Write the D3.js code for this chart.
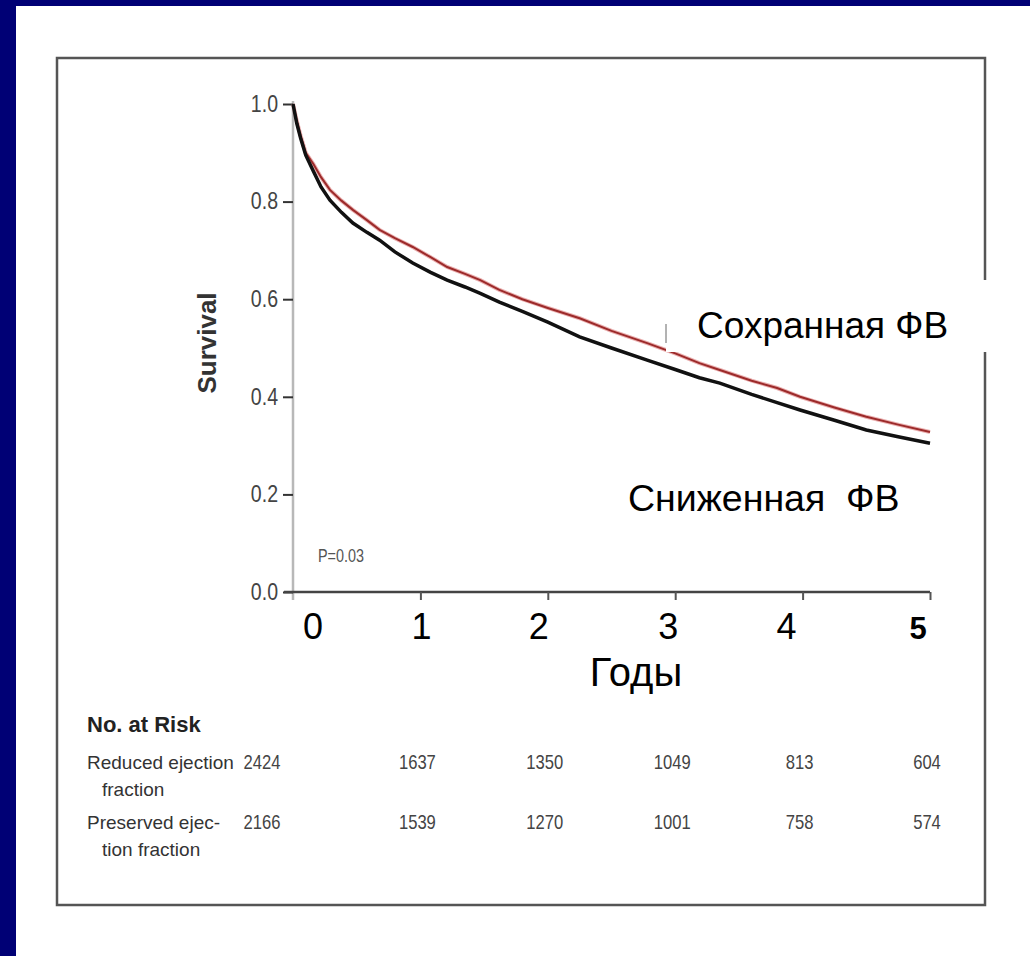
<!DOCTYPE html>
<html>
<head>
<meta charset="utf-8">
<script src="https://cdn.jsdelivr.net/npm/d3@7"></script>
<style>
  body { margin: 0; background: #fff; }
  text { font-family: "Liberation Sans", Arial, sans-serif; }
</style>
</head>
<body>
<svg id="km"></svg>
<script>
// data
const years = [0, 1, 2, 3, 4, 5];
const yTicks = [0, 0.2, 0.4, 0.6, 0.8, 1.0];

const times = [0, 0.03, 0.06, 0.1, 0.16, 0.22, 0.29, 0.38, 0.47, 0.58, 0.68, 0.8, 0.94, 1.08, 1.21, 1.35,
  1.47, 1.62, 1.8, 2.0, 2.25, 2.5, 2.78, 3.0, 3.19, 3.35, 3.6, 3.8, 3.98, 4.25, 4.5, 4.75, 5.0];
const reducedSurv = [1.0, 0.96, 0.93, 0.895, 0.862, 0.83, 0.803, 0.778, 0.756, 0.737, 0.721, 0.697, 0.674,
  0.655, 0.639, 0.625, 0.612, 0.594, 0.575, 0.553, 0.523, 0.5, 0.475, 0.456, 0.439, 0.428, 0.405, 0.388,
  0.373, 0.352, 0.332, 0.318, 0.305];
const preservedSurv = [1.0, 0.965, 0.935, 0.9, 0.877, 0.85, 0.824, 0.802, 0.783, 0.762, 0.742, 0.725, 0.707,
  0.686, 0.666, 0.652, 0.639, 0.619, 0.6, 0.582, 0.561, 0.535, 0.51, 0.489, 0.469, 0.455, 0.433, 0.418,
  0.4, 0.378, 0.359, 0.343, 0.328];

const riskReduced = [2424, 1637, 1350, 1049, 813, 604];
const riskPreserved = [2166, 1539, 1270, 1001, 758, 574];
const riskRows = [
  { lines: ["Reduced ejection", "fraction"], values: riskReduced },
  { lines: ["Preserved ejec-", "tion fraction"], values: riskPreserved }
];

const W = 1030, H = 956;
const svg = d3.select("#km").attr("width", W).attr("height", H);

// squeezed text, stands in for the narrow face of the scanned figure
function narrow(parent, px, py, sx, str) {
  return parent.append("text")
    .attr("transform", `translate(${px},${py}) scale(${sx},1)`)
    .text(str);
}

// slide background: navy strips on top and left
svg.append("rect").attr("x", 0).attr("y", 0).attr("width", W).attr("height", 6).attr("fill", "#000075");
svg.append("rect").attr("x", 0).attr("y", 0).attr("width", 16).attr("height", H).attr("fill", "#000075");

// figure frame
svg.append("rect")
  .attr("x", 57).attr("y", 58).attr("width", 928).attr("height", 847)
  .attr("fill", "none").attr("stroke", "#555").attr("stroke-width", 2.5);

const x = d3.scaleLinear().domain([0, 5]).range([293, 930]);
const y = d3.scaleLinear().domain([0, 1]).range([592, 104]);

// y axis
svg.append("line")
  .attr("x1", x(0)).attr("x2", x(0)).attr("y1", y(1) - 3).attr("y2", y(0) + 8)
  .attr("stroke", "#b8b8b8").attr("stroke-width", 2.5);

const yAxis = svg.append("g")
  .attr("transform", `translate(${x(0)},0)`)
  .call(d3.axisLeft(y).tickValues(yTicks).tickFormat(d3.format(".1f")).tickSize(10).tickPadding(5));
yAxis.select(".domain").remove();
yAxis.selectAll("line").attr("stroke", "#333").attr("stroke-width", 2);
yAxis.selectAll("text")
  .attr("x", null)
  .attr("transform", "translate(-15,0) scale(0.85,1)")
  .style("font-size", "23px").attr("fill", "#444");

svg.append("text")
  .attr("transform", "translate(216,343) rotate(-90)")
  .attr("text-anchor", "middle")
  .style("font-size", "26px").style("font-weight", "bold").attr("fill", "#333")
  .text("Survival");

// x axis
svg.append("line")
  .attr("x1", x(0) - 9).attr("x2", x(5)).attr("y1", y(0)).attr("y2", y(0))
  .attr("stroke", "#444").attr("stroke-width", 2.5);
const xAxis = svg.append("g")
  .attr("transform", `translate(0,${y(0)})`)
  .call(d3.axisBottom(x).tickValues(years.slice(1)).tickSize(8).tickFormat(""));
xAxis.select(".domain").remove();
xAxis.selectAll("line").attr("stroke", "#555").attr("stroke-width", 2);

// hand-placed year labels of the slide
const labelNudge = [20, 1, -9, -7, -16, -12];
svg.selectAll("text.year")
  .data(years)
  .join("text")
  .attr("class", "year")
  .attr("x", (d, i) => x(d) + labelNudge[i])
  .attr("y", 639)
  .attr("text-anchor", "middle")
  .style("font-size", d => d === 5 ? "31px" : "36px")
  .style("font-weight", d => d === 5 ? "bold" : "normal")
  .attr("fill", "#000")
  .text(d => d);

svg.append("text")
  .attr("x", 636).attr("y", 686)
  .attr("text-anchor", "middle")
  .style("font-size", "40px").attr("fill", "#000")
  .text("Годы");

// curves
const line = d3.line()
  .x(d => x(d[0]))
  .y(d => y(d[1]));

const preservedPts = times.map((t, i) => [t, preservedSurv[i]]);
svg.append("path")
  .datum(preservedPts)
  .attr("d", line)
  .attr("fill", "none").attr("stroke", "#eab0b0").attr("stroke-width", 4);
svg.append("path")
  .datum(preservedPts)
  .attr("d", line)
  .attr("fill", "none").attr("stroke", "#9c2a2a").attr("stroke-width", 2);
svg.append("path")
  .datum(times.map((t, i) => [t, reducedSurv[i]]))
  .attr("d", line)
  .attr("fill", "none").attr("stroke", "#111").attr("stroke-width", 3.5);

narrow(svg, 318, 562, 0.8, "P=0.03")
  .style("font-size", "18px").attr("fill", "#555");

// overlay labels
svg.append("rect")
  .attr("x", 666).attr("y", 280).attr("width", 326).attr("height", 72)
  .attr("fill", "#fff");
svg.append("line")
  .attr("x1", 666).attr("x2", 666).attr("y1", 324).attr("y2", 343)
  .attr("stroke", "#666").attr("stroke-width", 1);
svg.append("text")
  .attr("x", 697).attr("y", 338)
  .style("font-size", "37px").attr("fill", "#000")
  .text("Сохранная ФВ");
svg.append("text")
  .attr("x", 628).attr("y", 511)
  .style("font-size", "37.5px").attr("fill", "#000")
  .style("white-space", "pre")
  .text("Сниженная  ФВ");

// number at risk
svg.append("text")
  .attr("x", 87).attr("y", 732)
  .style("font-size", "22px").style("font-weight", "bold").attr("fill", "#222")
  .text("No. at Risk");

const rowY = [769, 829];
riskRows.forEach((row, r) => {
  row.lines.forEach((ln, k) => {
    svg.append("text")
      .attr("x", k === 0 ? 87 : 102)
      .attr("y", rowY[r] + k * 27)
      .style("font-size", "19px").attr("fill", "#333")
      .text(ln);
  });
  row.values.forEach((v, i) => {
    narrow(svg, i === 0 ? x(0) - 31 : x(years[i]) - 3, rowY[r], 0.83, v)
      .attr("text-anchor", "middle")
      .style("font-size", "20px").attr("fill", "#444");
  });
});
</script>
</body>
</html>
